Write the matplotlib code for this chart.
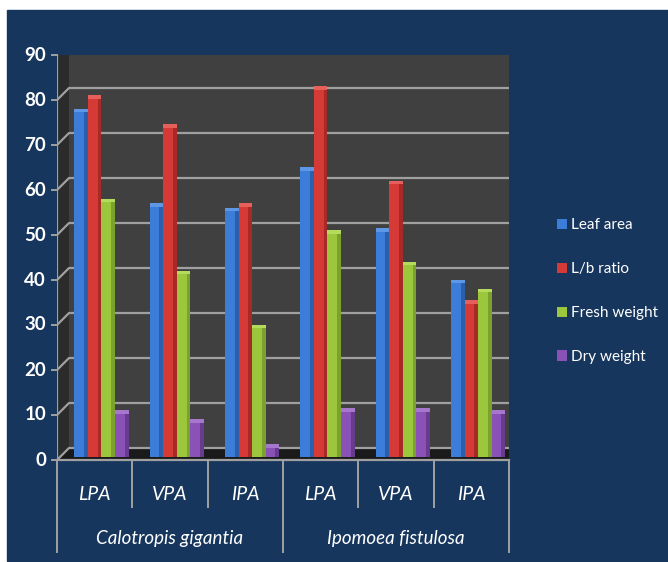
import matplotlib
matplotlib.use("Agg")
import matplotlib.pyplot as plt
import numpy as np
from matplotlib.patches import Rectangle, Polygon
from matplotlib.transforms import ScaledTranslation, IdentityTransform

plt.rcParams['font.family'] = ['Lato', 'DejaVu Sans']

species = ["Calotropis gigantia", "Ipomoea fistulosa"]
sites = ["LPA", "VPA", "IPA", "LPA", "VPA", "IPA"]
series = ["Leaf area", "L/b ratio", "Fresh weight", "Dry weight"]
leaf_area = [77, 56, 55, 64, 50.5, 39]
lb_ratio = [80, 73.5, 56, 82, 61, 34.5]
fresh_weight = [57, 41, 29, 50, 43, 37]
dry_weight = [10, 8, 2.5, 10.5, 10.5, 10]
yticks = [0, 10, 20, 30, 40, 50, 60, 70, 80, 90]

face = ["#3b7dd8", "#d63a36", "#9cc63b", "#8a52b6"]
side = ["#2a5fae", "#a82a27", "#7aa22c", "#673b8d"]
top = ["#5d97e6", "#e75f5a", "#b5db5c", "#a677cc"]

navy = "#17365d"
grid_c = "#a0a0a0"

fig = plt.figure(figsize=(6.68, 5.62), dpi=100, facecolor="white")
fig.patches.append(Rectangle((7 / 668, 1 / 562), 661 / 668, 551 / 562,
                             transform=fig.transFigure, color=navy, zorder=-5))

ax = fig.add_axes([57 / 668, 102 / 562, 452 / 668, 405 / 562])
ax.set_xlim(0, 6)
ax.set_ylim(0, 90)
ax.set_facecolor("none")
ax.axis("off")

depth = 12  # pixels of 3d offset


def px(x, y, d=0.0):
    p = ax.transData.transform((x, y))
    return (p[0] + d * depth, p[1] + d * depth)


pix = IdentityTransform()

# walls and floor
ax.add_patch(Polygon([px(0, 0, 1), px(6, 0, 1), px(6, 90, 1), px(0, 90, 1)],
                     closed=True, fc="#404040", ec="none", transform=pix, zorder=1))
ax.add_patch(Polygon([px(0, 0, 0), px(0, 0, 1), px(0, 90, 1), px(0, 90, 0)],
                     closed=True, fc="#2b2b2b", ec="none", transform=pix, zorder=1))
ax.add_patch(Polygon([px(0, 0, 0), px(6, 0, 0), px(6, 0, 1), px(0, 0, 1)],
                     closed=True, fc="#1a1a1a", ec="none", transform=pix, zorder=1))

for v in yticks:
    a, b, c = px(0, v, 0), px(0, v, 1), px(6, v, 1)
    ax.plot([a[0], b[0], c[0]], [a[1], b[1], c[1]], color=grid_c, lw=1.6,
            transform=pix, zorder=2, solid_capstyle="butt")
    t = px(0, v, 0)
    ax.plot([t[0] - 5, t[0]], [t[1], t[1]], color=grid_c, lw=1.4,
            transform=pix, zorder=2, clip_on=False)
    ax.text(t[0] - 11, t[1], str(v), color="white", fontsize=13.5,
            fontweight="bold", ha="right", va="center", transform=pix)

a, b = px(0, 0), px(0, 90)
ax.plot([a[0], b[0]], [a[1], b[1]], color=grid_c, lw=1.6, transform=pix, zorder=2)

# bars
bar_tr = ax.transData + ScaledTranslation(0.03, 0.03, fig.dpi_scale_trans)
x = np.arange(len(sites))
w = 0.18
start = 0.19
for k, vals in enumerate([leaf_area, lb_ratio, fresh_weight, dry_weight]):
    xl = x + start + k * w
    ax.bar(xl, vals, width=w, align="edge", color=face[k], transform=bar_tr,
           zorder=3, label=series[k])
    ax.bar(xl + w * 0.72, vals, width=w * 0.28, align="edge", color=side[k],
           transform=bar_tr, zorder=3)
    ax.bar(xl, 0.8, bottom=np.array(vals) - 0.4, width=w, align="edge",
           color=top[k], transform=bar_tr, zorder=3)

# category axis
xt = ax.get_xaxis_transform()
ax.plot([0, 6], [0, 0], color=grid_c, lw=1.6, transform=xt, clip_on=False, zorder=4)
for i in range(7):
    low = -0.227 if i % 3 == 0 else -0.116
    ax.plot([i, i], [0, low], color=grid_c, lw=1.4, transform=xt, clip_on=False)
for i, s in enumerate(sites):
    ax.text(i + 0.5, -0.084, s, color="white", fontsize=14, style="italic",
            ha="center", va="center", transform=xt)
for j, s in enumerate(species):
    ax.text(j * 3 + 1.5, -0.193, s, color="white", fontsize=13.5, style="italic",
            ha="center", va="center", transform=xt)

# legend
handles, labels = ax.get_legend_handles_labels()
leg = fig.legend(handles, labels, loc="center left", bbox_to_anchor=(546 / 668, 0.482),
                 frameon=False, fontsize=11, labelcolor="white", handlelength=0.65,
                 handleheight=0.65, handletextpad=0.3, labelspacing=1.95,
                 borderpad=0.2)

fig.savefig("out.png", dpi=100, facecolor=fig.get_facecolor())
